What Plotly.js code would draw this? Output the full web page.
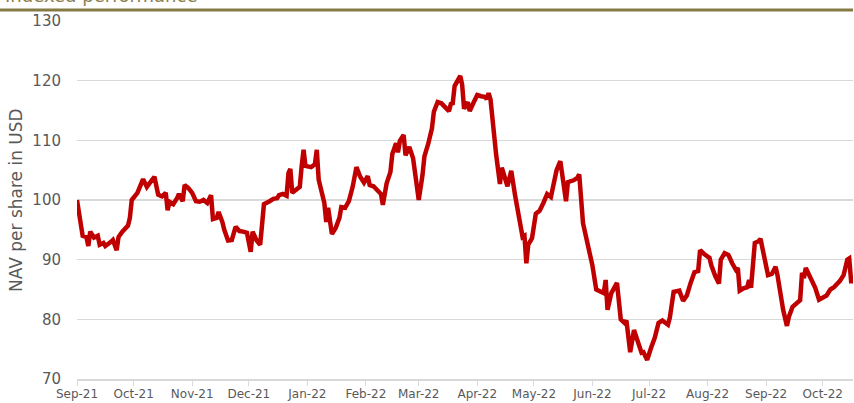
<!DOCTYPE html>
<html>
<head>
<meta charset="utf-8">
<script src="https://cdn.plot.ly/plotly-3.0.1.min.js"></script>
<style>html,body{margin:0;padding:0;background:#fff;}#chart{width:854px;height:403px;}</style>
</head>
<body>
<div id="chart"></div>
<script>
const dates = [
"2021-09-01","2021-09-04","2021-09-06","2021-09-07","2021-09-08","2021-09-10","2021-09-12","2021-09-13","2021-09-15","2021-09-16","2021-09-19","2021-09-20","2021-09-22","2021-09-23","2021-09-25","2021-09-28","2021-09-29","2021-09-30",
"2021-10-03","2021-10-05","2021-10-06","2021-10-08","2021-10-10","2021-10-12","2021-10-14","2021-10-16","2021-10-18","2021-10-19","2021-10-20","2021-10-22","2021-10-24","2021-10-25","2021-10-27","2021-10-28","2021-10-30",
"2021-11-01","2021-11-03","2021-11-05","2021-11-07","2021-11-09","2021-11-11","2021-11-12","2021-11-14","2021-11-15","2021-11-17","2021-11-18","2021-11-20","2021-11-22","2021-11-24","2021-11-26","2021-11-28","2021-11-30",
"2021-12-02","2021-12-03","2021-12-05","2021-12-07","2021-12-08","2021-12-09","2021-12-12","2021-12-14","2021-12-16","2021-12-17","2021-12-19","2021-12-21","2021-12-22","2021-12-23","2021-12-24","2021-12-26","2021-12-28","2021-12-29","2021-12-30","2021-12-31",
"2022-01-03","2022-01-05","2022-01-06","2022-01-07","2022-01-10","2022-01-11","2022-01-12","2022-01-14","2022-01-16","2022-01-18","2022-01-19","2022-01-21","2022-01-23","2022-01-25","2022-01-27","2022-01-29","2022-01-31",
"2022-02-02","2022-02-03","2022-02-05","2022-02-07","2022-02-09","2022-02-10","2022-02-12","2022-02-14","2022-02-15","2022-02-17","2022-02-18","2022-02-19","2022-02-21","2022-02-22","2022-02-24","2022-02-26","2022-02-27",
"2022-03-01","2022-03-03","2022-03-04","2022-03-06","2022-03-08","2022-03-09","2022-03-11","2022-03-13","2022-03-15","2022-03-17","2022-03-18","2022-03-19","2022-03-20","2022-03-22","2022-03-23","2022-03-24","2022-03-25","2022-03-27","2022-03-28","2022-03-30",
"2022-04-01","2022-04-03","2022-04-05","2022-04-06","2022-04-07","2022-04-08","2022-04-10","2022-04-11","2022-04-13","2022-04-14","2022-04-17","2022-04-19","2022-04-21","2022-04-23","2022-04-25","2022-04-26","2022-04-27","2022-04-28","2022-04-30",
"2022-05-02","2022-05-04","2022-05-06","2022-05-08","2022-05-10","2022-05-12","2022-05-13","2022-05-15","2022-05-17","2022-05-18","2022-05-19","2022-05-22","2022-05-24","2022-05-25","2022-05-27","2022-05-29","2022-05-30",
"2022-06-01","2022-06-03","2022-06-05","2022-06-07","2022-06-08","2022-06-09","2022-06-11","2022-06-13","2022-06-14","2022-06-16","2022-06-18","2022-06-19","2022-06-21","2022-06-23","2022-06-25","2022-06-27","2022-06-28","2022-06-30",
"2022-07-02","2022-07-04","2022-07-06","2022-07-08","2022-07-11","2022-07-12","2022-07-14","2022-07-17","2022-07-19","2022-07-21","2022-07-23","2022-07-25","2022-07-27","2022-07-28","2022-07-30",
"2022-08-02","2022-08-03","2022-08-04","2022-08-05","2022-08-07","2022-08-08","2022-08-10","2022-08-12","2022-08-14","2022-08-16","2022-08-17","2022-08-18","2022-08-20","2022-08-22","2022-08-23","2022-08-24","2022-08-26","2022-08-28","2022-08-29","2022-08-31",
"2022-09-02","2022-09-04","2022-09-06","2022-09-07","2022-09-10","2022-09-12","2022-09-13","2022-09-15","2022-09-18","2022-09-19","2022-09-20","2022-09-21","2022-09-22","2022-09-25","2022-09-27","2022-09-29",
"2022-10-01","2022-10-03","2022-10-05","2022-10-07","2022-10-10","2022-10-12","2022-10-14","2022-10-15","2022-10-16","2022-10-17"
];
const nav = [
100,94,93.8,92.3,94.7,93.7,94,92.5,92.8,92.3,93,93.3,91.6,93.8,94.7,95.7,97,100,
101.2,102.7,103.5,102.2,103.2,103.9,100.9,100.6,101.2,98.3,99.7,99.3,100.3,101,99.8,102.5,102,
101.2,99.8,99.7,100,99.5,100.8,96.8,97,98,96.3,95,93.2,93.3,95.5,94.8,94.7,94.5,
91.3,94.7,93.3,92.5,95.8,99.3,99.8,100.2,100.3,100.8,101,100.7,104.5,105.2,101.2,101.7,102.2,105.7,108.4,105.7,
105.5,106,108.4,103.4,99.5,96.3,98.7,94.3,95.3,97,98.8,98.7,99.8,102.2,105.5,103.9,102.9,
104,102.5,102.3,101.5,101,99.2,102.8,104.7,107.7,109.5,108,109.9,110.9,107.5,108.9,107,104.2,
100,104.2,107.3,109.4,112,114.8,116.4,116.2,115.6,114.9,116.1,116.2,119.1,120.3,120.8,119.3,115.3,116.4,114.9,116.3,
117.6,117.4,117.3,116.9,117.9,116.9,110.4,107.6,102.7,105.4,102.3,104.9,100.8,97.6,93.8,94,89.4,92.5,93.6,
97.7,98.2,99.5,101,100.5,103.3,105,106.5,102,99.8,103,103.3,103.7,104.3,96.1,93.2,91.6,
89,85,84.6,84.4,86.6,81.6,84.4,85.8,86.1,80,79.4,79.8,74.5,78.2,76,74.4,74.5,73.2,
75.2,76.9,79.4,79.8,79.1,80.3,84.6,84.8,83.1,84,86.1,87.9,88.1,91.6,91,
90.3,89,87.8,87.3,86,90,91.1,90.8,89.4,88.3,88.6,84.8,85.2,85.4,86.6,85.3,92.8,93.1,93.5,90,
87.4,87.6,88.8,87.4,81.6,78.9,80.4,82.1,82.9,83.2,87.8,86.9,88.6,86.8,85.3,83.3,
83.6,84,85,85.4,86.4,87.4,90,90.2,86.4,86.4
];
const yTicks = [70,80,90,100,110,120,130];
const titleText = "Indexed performance";
const yTitle = "NAV per share in USD";

const FONT = "DejaVu Sans";
const W = 854, L = 77, R = 1, T = 21, B = 24;
const pw = W - L - R;

Plotly.newPlot("chart", [{
  x: dates, y: nav, type: "scatter", mode: "lines",
  line: {color: "#c00000", width: 4.5, shape: "linear"},
  hoverinfo: "x+y"
}], {
  width: 854, height: 403,
  margin: {l: L, r: R, t: T, b: B, pad: 0},
  paper_bgcolor: "#fff", plot_bgcolor: "#fff",
  showlegend: false,
  font: {family: FONT, color: "#595959"},
  xaxis: {
    type: "date", range: ["2021-09-01", "2022-10-17"],
    tick0: "2021-09-01", dtick: "M1", tickformat: "%b-%y",
    showgrid: false, zeroline: false,
    showline: true, linecolor: "#d9d9d9", linewidth: 1.5,
    ticks: "outside", ticklen: 5, tickcolor: "#d9d9d9", tickwidth: 1,
    ticklabelstandoff: -2,
    tickfont: {family: FONT, size: 12, color: "#595959"}
  },
  yaxis: {
    range: [70, 130], tickvals: yTicks, ticktext: yTicks.map(String),
    showgrid: true, gridcolor: "#d9d9d9", gridwidth: 1.5,
    zeroline: false, showline: false, ticks: "",
    ticklabelstandoff: 15,
    tickfont: {family: FONT, size: 15, color: "#595959"}
  },
  shapes: [{
    type: "line", xref: "paper", yref: "paper",
    x0: -L / pw, x1: 1, y0: 1 + (T - 10) / 358, y1: 1 + (T - 10) / 358,
    line: {color: "#857a45", width: 3}
  }],
  annotations: [{
    text: titleText, xref: "paper", yref: "paper",
    x: (3 - L) / pw, y: 1 + (T - 8) / 358, xanchor: "left", yanchor: "bottom",
    showarrow: false, font: {family: FONT, size: 18, color: "#8a7e4e"}
  }, {
    text: yTitle, xref: "paper", yref: "paper",
    x: (16 - L) / pw, y: 0.5, xanchor: "center", yanchor: "middle",
    textangle: -90, showarrow: false,
    font: {family: FONT, size: 17, color: "#595959"}
  }]
}, {displayModeBar: false, staticPlot: true});
</script>
</body>
</html>
